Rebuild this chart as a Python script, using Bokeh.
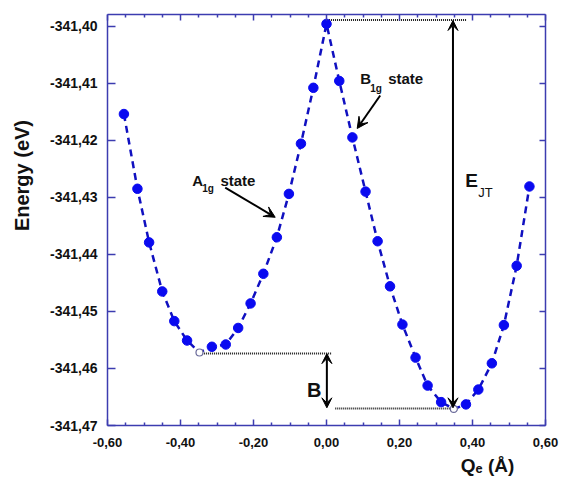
from bokeh.plotting import figure
from bokeh.models import (Range1d, LinearAxis, FixedTicker, CustomJSTickFormatter,
                          Label, Arrow, VeeHead, ColumnDataSource)
from bokeh.embed import file_html
from bokeh.resources import INLINE

# ---------------- data ----------------
q_values = [-0.555, -0.518, -0.486, -0.450, -0.417, -0.382, -0.348, -0.314, -0.276,
            -0.242, -0.208, -0.173, -0.136, -0.103, -0.070, -0.036, 0.000, 0.035,
            0.071, 0.107, 0.140, 0.174, 0.208, 0.244, 0.277, 0.314, 0.349, 0.382,
            0.416, 0.453, 0.486, 0.521, 0.556]
energy = [-341.4154, -341.4285, -341.4379, -341.4465, -341.4517, -341.4551, -341.4572,
          -341.4562, -341.4558, -341.4529, -341.4486, -341.4434, -341.4370, -341.4294,
          -341.4206, -341.4108, -341.3996, -341.4096, -341.4195, -341.4290, -341.4377,
          -341.4456, -341.4523, -341.4581, -341.4630, -341.4659, -341.4671, -341.4663,
          -341.4637, -341.4591, -341.4524, -341.4420, -341.4281]
open_marker_idx = [6, 26]          # the two minima drawn as open markers

# dotted guide lines (E_JT top level, A1g minimum level, B1g minimum level)
guide_top_q = [0.007, 0.383]
guide_top_e = [-341.3989, -341.3989]
guide_a_q = [-0.3463, 0.0152]
guide_a_e = [-341.4574, -341.4574]
guide_b_q = [0.024, 0.349]
guide_b_e = [-341.4670, -341.4670]

x_ticks = [-0.6, -0.4, -0.2, 0.0, 0.2, 0.4, 0.6]
x_minor = [-0.55, -0.5, -0.45, -0.35, -0.3, -0.25, -0.15, -0.1, -0.05,
           0.05, 0.1, 0.15, 0.25, 0.3, 0.35, 0.45, 0.5, 0.55]
y_ticks = [-341.47, -341.46, -341.45, -341.44, -341.43, -341.42, -341.41, -341.40]

x_title = "Q\u2091 (\u00c5)"
y_title = "Energy (eV)"

AX = "#3c3cb0"
BLUE = "#0a0af0"
LINE = "#1010c0"
FONT = "Liberation Sans"
NB = "\u00a0"

p = figure(width=564, height=483, output_backend="svg", toolbar_location=None,
           x_range=Range1d(-0.6, 0.6), y_range=Range1d(-341.47, -341.39795),
           x_axis_location=None, y_axis_location=None,
           min_border_left=107, min_border_right=19, min_border_top=14, min_border_bottom=58)
p.outline_line_color = None
p.xgrid.visible = False
p.ygrid.visible = False
p.background_fill_color = "white"
p.border_fill_color = "white"

fmt = CustomJSTickFormatter(code="return tick.toFixed(2).replace('.', ',');")
blank = CustomJSTickFormatter(code="return '';")


def make_axis(ticks, minor, tick_in, minor_in, labels, size="13px", standoff=10):
    ax = LinearAxis(ticker=FixedTicker(ticks=ticks, minor_ticks=minor),
                    formatter=fmt if labels else blank)
    ax.axis_line_color = AX
    ax.axis_line_width = 1.5
    ax.major_tick_line_color = AX
    ax.major_tick_line_width = 1.5
    ax.major_tick_in = tick_in
    ax.major_tick_out = 0
    ax.minor_tick_line_color = AX if minor else None
    ax.minor_tick_line_width = 1.5
    ax.minor_tick_in = minor_in
    ax.minor_tick_out = 0
    if labels:
        ax.major_label_text_font = FONT
        ax.major_label_text_font_style = "bold"
        ax.major_label_text_font_size = size
        ax.major_label_text_color = "#111111"
        ax.major_label_standoff = standoff
    else:
        ax.major_label_text_font_size = "1px"
        ax.major_label_text_color = None
        ax.major_label_standoff = 0
    return ax


xb = make_axis(x_ticks, x_minor, 6, 3, True, "13px", 12)
xb.axis_label = NB * 61 + x_title
xb.axis_label_text_font = FONT
xb.axis_label_text_font_style = "bold"
xb.axis_label_text_font_size = "19px"
xb.axis_label_text_color = "#111111"
xb.axis_label_standoff = 5
p.add_layout(xb, "below")
p.add_layout(make_axis(x_ticks, x_minor, 6, 3, False), "above")

yl = make_axis(y_ticks, [], 8, 0, True, "14px", 10)
yl.axis_label = NB * 16 + y_title
yl.axis_label_text_font = FONT
yl.axis_label_text_font_style = "bold"
yl.axis_label_text_font_size = "20px"
yl.axis_label_text_color = "#111111"
yl.axis_label_standoff = 14
p.add_layout(yl, "left")
p.add_layout(make_axis(y_ticks, [], 6, 0, False), "right")

# guide dotted lines
GUIDE = "#1a1a1a"
for gq, ge in ((guide_top_q, guide_top_e), (guide_a_q, guide_a_e), (guide_b_q, guide_b_e)):
    p.line(gq, ge, line_color=GUIDE, line_width=2, line_dash="1 1")

# data curve
p.line(q_values, energy, line_color=LINE, line_width=2.5, line_dash="7 5")
filled = ColumnDataSource(dict(
    q=[q for i, q in enumerate(q_values) if i not in open_marker_idx],
    e=[e for i, e in enumerate(energy) if i not in open_marker_idx]))
p.scatter("q", "e", source=filled, size=9.5, fill_color=BLUE, line_color=BLUE)
p.scatter([q_values[i] for i in open_marker_idx], [energy[i] for i in open_marker_idx],
          size=7, fill_color="white", line_color="#6a6a9a", line_width=1.2)


# double arrows
def head():
    return VeeHead(size=10, fill_color="black", line_color="black", line_width=1)


p.add_layout(Arrow(start=head(), end=head(), x_start=0.3465, y_start=guide_top_e[0] - 0.0001,
                   x_end=0.3465, y_end=guide_b_e[0] + 0.0001, line_width=2, line_color="black"))
p.add_layout(Arrow(start=head(), end=head(), x_start=0.001, y_start=guide_a_e[0],
                   x_end=0.001, y_end=guide_b_e[0] + 0.0001, line_width=2, line_color="black"))

# pointer arrows
p.add_layout(Arrow(end=VeeHead(size=11, fill_color="black", line_color="black"),
                   x_start=-0.2775, y_start=-341.4283, x_end=-0.1405, y_end=-341.4335,
                   line_width=2, line_color="black"))
p.add_layout(Arrow(end=VeeHead(size=11, fill_color="black", line_color="black"),
                   x_start=0.1471, y_start=-341.41215, x_end=0.0841, y_end=-341.41793,
                   line_width=2, line_color="black"))


def lab(x, y, text, size, style="bold", color="#111111"):
    p.add_layout(Label(x=x, y=y, text=text, text_font=FONT, text_font_size=size,
                       text_font_style=style, text_color=color, text_align="left",
                       text_baseline="alphabetic"))


# state labels
lab(-0.3679, -341.4271, "A", "15px")
lab(-0.3406, -341.4285, "1g", "10px")
lab(-0.2907, -341.4271, "state", "15px")
lab(0.0923, -341.4092, "B", "15px")
lab(0.1197, -341.4109, "1g", "10px")
lab(0.1690, -341.4092, "state", "15px")
# E_JT
lab(0.380, -341.4271, "E", "19px")
lab(0.4156, -341.4292, "JT", "13px", style="normal")
# barrier B
lab(-0.0537, -341.46375, "B", "20px")

open("out.html", "w").write(file_html(p, INLINE))
